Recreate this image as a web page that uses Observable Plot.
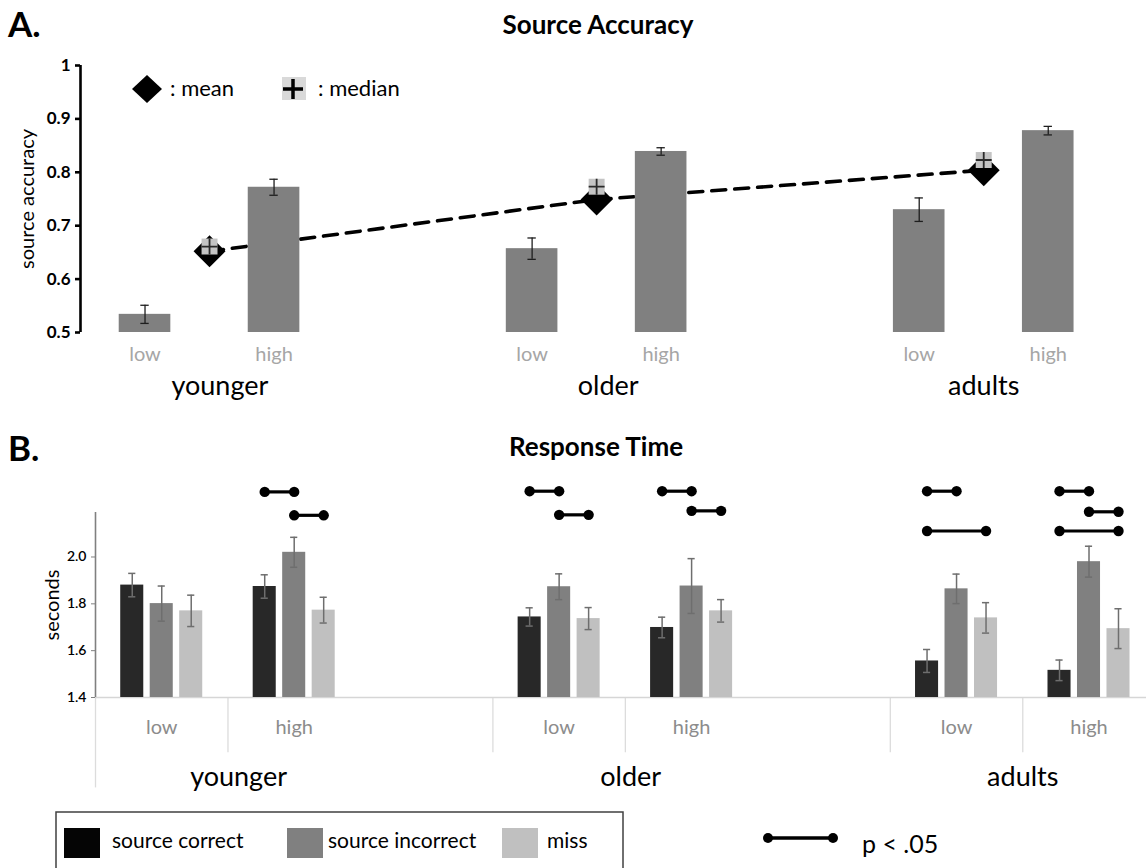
<!DOCTYPE html>
<html>
<head>
<meta charset="utf-8">
<script src="https://cdn.jsdelivr.net/npm/d3@7"></script>
<script src="https://cdn.jsdelivr.net/npm/@observablehq/plot@0.6"></script>
<style>
  html, body { margin: 0; padding: 0; background: #fff; }
  #root { position: relative; width: 1146px; height: 868px; overflow: hidden; font-family: Lato, sans-serif; }
  #root > svg { position: absolute; left: 0; }
</style>
</head>
<body>
<div id="root"></div>
<script>
// ---------------- data ----------------
const groups = ["younger", "older", "adults"];
const levels = ["low", "high"];

// Panel A: source accuracy
const accuracyBar = [[0.534, 0.772], [0.657, 0.839], [0.730, 0.878]];
const accuracyErr = [[0.017, 0.015], [0.020, 0.007], [0.022, 0.008]];
const accuracyMean = [0.652, 0.749, 0.804];
const accuracyMedian = [0.661, 0.773, 0.823];
const accuracyTicks = [0.5, 0.6, 0.7, 0.8, 0.9, 1];

// Panel B: response time (seconds)
const conditions = ["source correct", "source incorrect", "miss"];
const condColors = ["#282828", "#808080", "#c0c0c0"];
const rtYounger = [[1.880, 1.801, 1.770], [1.874, 2.020, 1.773]];
const rtOlder   = [[1.744, 1.873, 1.737], [1.699, 1.876, 1.770]];
const rtAdults  = [[1.556, 1.864, 1.740], [1.516, 1.980, 1.694]];
const rtErrYounger = [[0.050, 0.075, 0.067], [0.050, 0.064, 0.055]];
const rtErrOlder   = [[0.039, 0.055, 0.047], [0.044, 0.117, 0.048]];
const rtErrAdults  = [[0.049, 0.063, 0.065], [0.044, 0.066, 0.085]];
const rtTicks = [1.4, 1.6, 1.8, 2.0];
// significant pairs (p < .05): group, level, condition a, condition b, bracket height (s)
const sigPairs = [
  ["younger", "high", "source correct", "source incorrect", 2.278],
  ["younger", "high", "source incorrect", "miss", 2.178],
  ["older", "low", "source correct", "source incorrect", 2.281],
  ["older", "low", "source incorrect", "miss", 2.18],
  ["older", "high", "source correct", "source incorrect", 2.281],
  ["older", "high", "source incorrect", "miss", 2.197],
  ["adults", "low", "source correct", "source incorrect", 2.281],
  ["adults", "low", "source correct", "miss", 2.111],
  ["adults", "high", "source correct", "source incorrect", 2.281],
  ["adults", "high", "source incorrect", "miss", 2.193],
  ["adults", "high", "source correct", "miss", 2.111]
];

// ---------------- layout ----------------
const W = 1146;
const FONT = "Lato, sans-serif";
const groupLabelSlotA = [1.16, 7.18, 13.0];
const groupLabelSlotB = [0.58, 3.54, 6.5];
const root = d3.select("#root");

// ---------------- Panel A ----------------
const slotA = (gi, li) => gi * 6 + li * 2;
const barsA = groups.flatMap((g, gi) => levels.map((l, li) => ({
  group: g, level: l, slot: slotA(gi, li), value: accuracyBar[gi][li], err: accuracyErr[gi][li]
})));
const centersA = groups.map((g, gi) => ({
  group: g, slot: gi * 6 + 1, mean: accuracyMean[gi], median: accuracyMedian[gi], labelSlot: groupLabelSlotA[gi]
}));
const halfA = 0.4, capA = 0.065;
const yMinA = accuracyTicks[0], yMaxA = accuracyTicks[accuracyTicks.length - 1];

const plotA = Plot.plot({
  width: W, height: 400,
  marginLeft: 80, marginRight: 66, marginTop: 65, marginBottom: 68,
  style: { fontFamily: FONT, overflow: "visible", background: "transparent", color: "#000" },
  x: { domain: [-1, 14.5], axis: null },
  y: { domain: [yMinA, yMaxA], axis: null },
  marks: [
    Plot.line(centersA, { x: "slot", y: "mean", stroke: "#000", strokeWidth: 3.6, strokeDasharray: "14,9" }),
    Plot.rect(barsA, { x1: d => d.slot - halfA, x2: d => d.slot + halfA, y1: d => yMinA, y2: "value", fill: "#808080" }),
    Plot.ruleX(barsA, { x: "slot", y1: d => d.value - d.err, y2: d => d.value + d.err, stroke: "#1e1e1e", strokeWidth: 1.3 }),
    Plot.ruleY(barsA, { x1: d => d.slot - capA, x2: d => d.slot + capA, y: d => d.value + d.err, stroke: "#1e1e1e", strokeWidth: 1.3 }),
    Plot.ruleY(barsA, { x1: d => d.slot - capA, x2: d => d.slot + capA, y: d => d.value - d.err, stroke: "#1e1e1e", strokeWidth: 1.3 }),
    Plot.dot(centersA, { x: "slot", y: "mean", symbol: "diamond2", r: 14.4, fill: "#000", stroke: "none" }),
    Plot.dot(centersA, { x: "slot", y: "median", symbol: "square", r: 9, fill: "#c4c4c4", stroke: "none" }),
    Plot.dot(centersA, { x: "slot", y: "median", symbol: "plus", r: 5.2, stroke: "#2a2a2a", strokeWidth: 1.8 }),
    Plot.ruleX([-1], { y1: d => yMinA, y2: d => yMaxA, stroke: "#000", strokeWidth: 2.6 }),
    Plot.axisY(accuracyTicks, {
      anchor: "left", tickSize: 5, tickPadding: 5, strokeWidth: 2.6,
      tickFormat: d => d === 1 ? "1" : d.toFixed(1), fontSize: 17, fontWeight: 700, label: null
    }),
    Plot.text(["source accuracy"], { text: d => d, frameAnchor: "left", textAnchor: "middle", rotate: -90, dx: -53, fontSize: 20 }),
    Plot.text(barsA, { x: "slot", text: "level", frameAnchor: "bottom", dy: 28, fill: "#a6a6a6", fontSize: 20 }),
    Plot.text(centersA, { x: "labelSlot", text: "group", frameAnchor: "bottom", dy: 62, fontSize: 27, fill: "#000" })
  ]
});
d3.select(plotA).style("top", "0px");
root.node().appendChild(plotA);

// ---------------- Panel B ----------------
const rtMeans = [rtYounger, rtOlder, rtAdults];
const rtErrs = [rtErrYounger, rtErrOlder, rtErrAdults];
const stepB = 0.2226, halfB = 0.087, capB = 0.027;
const slotB = (gi, li) => gi * 3 + li;
const offB = ci => (ci - 1) * stepB;
const barsB = groups.flatMap((g, gi) => levels.flatMap((l, li) => conditions.map((c, ci) => ({
  group: g, level: l, cond: c, x: slotB(gi, li) + offB(ci), v: rtMeans[gi][li][ci], e: rtErrs[gi][li][ci]
}))));
const clustersB = groups.flatMap((g, gi) => levels.map((l, li) => ({ group: g, level: l, slot: slotB(gi, li) })));
const groupsB = groups.map((g, gi) => ({ group: g, labelSlot: groupLabelSlotB[gi] }));
const sigB = sigPairs.map(([g, l, a, b, h]) => {
  const s = slotB(groups.indexOf(g), levels.indexOf(l));
  return { x1: s + offB(conditions.indexOf(a)), x2: s + offB(conditions.indexOf(b)), h };
});
const sigEndsB = sigB.flatMap(d => [{ x: d.x1, h: d.h }, { x: d.x2, h: d.h }]);
const yMinB = 1.4, yMaxB = 2.19;
const sepShort = 1.164, sepLong = 1.014; // depth of category separators below the baseline
const separatorsB = clustersB.map((c, i) => ({ x: c.slot - 0.5, bottom: i === 0 ? sepLong : sepShort }));

const plotB = Plot.plot({
  width: W, height: 390,
  marginLeft: 95, marginRight: 0, marginTop: 102, marginBottom: 103,
  style: { fontFamily: FONT, overflow: "visible", background: "transparent", color: "#000" },
  x: { domain: [-0.5, 7.434], axis: null },
  y: { domain: [yMinB, yMaxB], axis: null },
  color: { domain: conditions, range: condColors },
  marks: [
    Plot.ruleX(separatorsB, { x: "x", y1: d => yMinB, y2: "bottom", stroke: "#dcdcdc", strokeWidth: 1.3 }),
    Plot.ruleY([yMinB], { stroke: "#d6d6d6", strokeWidth: 1.6 }),
    Plot.rect(barsB, { x1: d => d.x - halfB, x2: d => d.x + halfB, y1: d => yMinB, y2: "v", fill: "cond" }),
    Plot.ruleX(barsB, { x: "x", y1: d => d.v - d.e, y2: d => d.v + d.e, stroke: "#6e6e6e", strokeWidth: 1.5 }),
    Plot.ruleY(barsB, { x1: d => d.x - capB, x2: d => d.x + capB, y: d => d.v + d.e, stroke: "#6e6e6e", strokeWidth: 1.5 }),
    Plot.ruleY(barsB, { x1: d => d.x - capB, x2: d => d.x + capB, y: d => d.v - d.e, stroke: "#6e6e6e", strokeWidth: 1.5 }),
    Plot.ruleX([-0.5], { y1: d => yMinB, y2: d => yMaxB, stroke: "#808080", strokeWidth: 1.6 }),
    Plot.axisY(rtTicks, {
      anchor: "left", tickSize: 4, tickPadding: 5, stroke: "#808080",
      tickFormat: d => d.toFixed(1), fontSize: 14, fontWeight: 600, label: null
    }),
    Plot.text(["seconds"], { text: d => d, frameAnchor: "left", textAnchor: "middle", rotate: -90, dx: -43, fontSize: 20 }),
    Plot.link(sigB, { x1: "x1", x2: "x2", y1: "h", y2: "h", stroke: "#000", strokeWidth: 3.2 }),
    Plot.dot(sigEndsB, { x: "x", y: "h", r: 5.2, fill: "#000", stroke: "none" }),
    Plot.text(clustersB, { x: "slot", text: "level", frameAnchor: "bottom", dy: 36, fill: "#8c8c8c", fontSize: 20 }),
    Plot.text(groupsB, { x: "labelSlot", text: "group", frameAnchor: "bottom", dy: 88, fontSize: 27, fill: "#000" })
  ]
});
d3.select(plotB).style("top", "410px");
root.node().appendChild(plotB);

// ---------------- titles & legends (overlay) ----------------
const ov = root.append("svg")
  .attr("width", W).attr("height", 868)
  .style("top", "0px")
  .attr("font-family", FONT);

ov.append("text").attr("x", 8).attr("y", 37).attr("font-size", 35).attr("font-weight", 700).text("A.");
ov.append("text").attr("x", 598).attr("y", 34).attr("text-anchor", "middle").attr("font-size", 26).attr("font-weight", 700).text("Source Accuracy");
ov.append("text").attr("x", 8).attr("y", 461).attr("font-size", 35).attr("font-weight", 700).text("B.");
ov.append("text").attr("x", 596).attr("y", 456).attr("text-anchor", "middle").attr("font-size", 26).attr("font-weight", 700).text("Response Time");

// mean / median legend
ov.append("path").attr("d", "M147,75 L162,89 L147,103 L132,89 Z").attr("fill", "#000");
ov.append("text").attr("x", 170).attr("y", 96).attr("font-size", 22).text(": mean");
ov.append("rect").attr("x", 282).attr("y", 77).attr("width", 24).attr("height", 23).attr("fill", "#d9d9d9");
ov.append("path").attr("d", "M283,89 L303,89 M293,79 L293,99").attr("stroke", "#000").attr("stroke-width", 3.5);
ov.append("text").attr("x", 318).attr("y", 96).attr("font-size", 22).text(": median");

// condition legend
ov.append("rect").attr("x", 56).attr("y", 812).attr("width", 567).attr("height", 70)
  .attr("fill", "none").attr("stroke", "#404040").attr("stroke-width", 1.5);
const legendX = [64, 287, 502];
const legendTextX = [112, 328, 547];
conditions.forEach((c, i) => {
  ov.append("rect").attr("x", legendX[i]).attr("y", 828).attr("width", 36).attr("height", 30)
    .attr("fill", i === 0 ? "#050505" : condColors[i]);
  ov.append("text").attr("x", legendTextX[i]).attr("y", 848).attr("font-size", 21).text(c);
});

// significance legend
ov.append("line").attr("x1", 768).attr("x2", 833).attr("y1", 838).attr("y2", 838).attr("stroke", "#000").attr("stroke-width", 3.5);
ov.append("circle").attr("cx", 768).attr("cy", 838).attr("r", 5).attr("fill", "#000");
ov.append("circle").attr("cx", 833).attr("cy", 838).attr("r", 5).attr("fill", "#000");
ov.append("text").attr("x", 862).attr("y", 853).attr("font-size", 25).text("p < .05");
</script>
</body>
</html>
